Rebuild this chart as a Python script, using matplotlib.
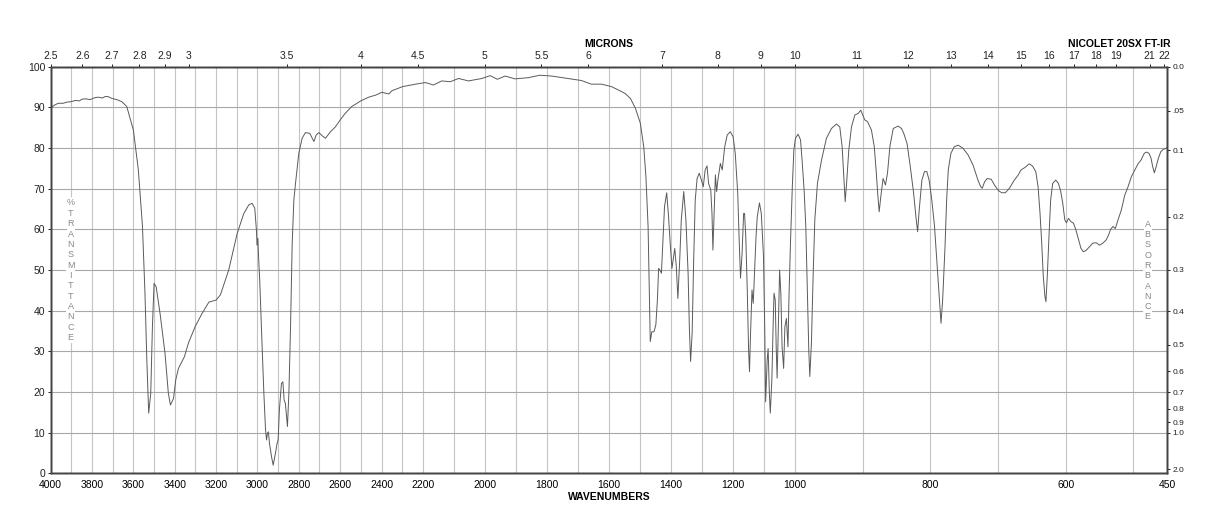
import matplotlib
matplotlib.use('Agg')
import matplotlib.pyplot as plt
import numpy as np

plt.rcParams['font.family'] = ['Liberation Sans', 'DejaVu Sans']

# chart paper x axis: three panels of equal width, 4000-2200, 2200-1000, 1000-450
X_BREAKS = [450, 1000, 2200, 4000]


def fwd(w):
    return np.interp(w, X_BREAKS, [0, 1, 2, 3])


def inv(u):
    return np.interp(u, [0, 1, 2, 3], X_BREAKS)


# O-H / C-H stretch region (cm-1, %T)
wn_high = [4000, 3980, 3963, 3940, 3920, 3900, 3880, 3860, 3850, 3830, 3810, 3785,
           3770, 3750, 3735, 3720, 3705, 3680, 3656, 3632, 3600, 3576, 3556, 3544,
           3535, 3526, 3516, 3508, 3500, 3490, 3471, 3447, 3431, 3421, 3406, 3395,
           3382, 3353, 3334, 3302, 3268, 3235, 3200, 3179, 3139, 3098, 3066, 3042,
           3026, 3013, 3005, 3002, 2998, 2994, 2989, 2981, 2969, 2961, 2956, 2952,
           2947, 2942, 2932, 2924, 2913, 2905, 2900, 2894, 2884, 2877, 2871, 2865,
           2855, 2848, 2840, 2832, 2824, 2816, 2800, 2784, 2768, 2747, 2727, 2716,
           2703, 2687, 2671, 2647, 2623, 2600, 2576, 2544, 2500, 2462, 2429, 2398,
           2365, 2349, 2298, 2236]
t_high = [89.9, 90.6, 91.0, 91.0, 91.3, 91.4, 91.7, 91.6, 92.0, 92.1, 91.9, 92.4,
          92.5, 92.3, 92.7, 92.6, 92.2, 91.9, 91.4, 90.2, 84.4, 74.6, 60.7, 44.3,
          27.9, 14.8, 19.7, 36.0, 46.7, 45.9, 39.3, 29.5, 19.7, 16.8, 18.4, 23.0,
          25.8, 28.7, 32.0, 36.0, 39.3, 42.1, 42.6, 43.9, 50.0, 59.0, 63.9, 66.0,
          66.4, 65.2, 59.8, 56.1, 57.8, 52.5, 47.5, 36.0, 19.7, 10.7, 8.2, 9.8,
          10.2, 7.4, 4.1, 2.0, 4.9, 7.4, 8.2, 15.6, 22.1, 22.5, 18.0, 17.2,
          11.5, 19.7, 36.0, 56.6, 67.2, 71.3, 78.7, 82.4, 83.8, 83.6, 81.6, 83.2,
          83.8, 83.0, 82.4, 84.0, 85.2, 86.9, 88.5, 90.2, 91.6, 92.5, 93.0, 93.7,
          93.3, 94.1, 95.1, 95.7]

# baseline 2200-1500
wn_mid = [2192, 2166, 2139, 2112, 2085, 2053, 2010, 1983, 1960, 1935, 1903, 1860,
          1823, 1785, 1732, 1689, 1657, 1624, 1592, 1560, 1548, 1531, 1515, 1499]
t_mid = [96.1, 95.5, 96.5, 96.3, 97.1, 96.5, 97.1, 97.8, 96.9, 97.7, 97.0, 97.3,
         97.9, 97.7, 97.1, 96.6, 95.7, 95.7, 95.1, 93.9, 93.4, 92.2, 89.8, 86.1]

# fingerprint 1500-1000
wn_finger = [1488, 1481, 1474, 1470, 1467, 1462, 1455, 1449, 1444, 1440, 1436, 1431,
             1427, 1421, 1414, 1408, 1402, 1397, 1388, 1383, 1378, 1372, 1367, 1359,
             1352, 1345, 1341, 1337, 1332, 1327, 1322, 1316, 1309, 1302, 1296, 1290,
             1284, 1279, 1272, 1268, 1265, 1260, 1257, 1253, 1249, 1241, 1235, 1227,
             1219, 1209, 1200, 1193, 1185, 1180, 1176, 1171, 1166, 1163, 1159, 1154,
             1150, 1147, 1144, 1139, 1135, 1131, 1126, 1122, 1115, 1109, 1102, 1098,
             1095, 1090, 1087, 1083, 1080, 1075, 1071, 1068, 1064, 1061, 1058, 1054,
             1050, 1046, 1042, 1037, 1033, 1028, 1023, 1020, 1015, 1009, 1004]
t_finger = [80.3, 73.0, 60.7, 44.3, 32.4, 34.8, 34.8, 36.5, 42.6, 50.4, 50.0, 49.2,
            55.7, 65.6, 69.0, 63.1, 55.7, 50.4, 55.3, 50.8, 43.0, 52.5, 62.3, 69.3,
            62.3, 49.2, 36.0, 27.5, 34.4, 52.5, 67.2, 72.5, 73.8, 72.1, 70.5, 74.6,
            75.6, 71.3, 69.7, 63.9, 54.9, 66.4, 73.4, 69.3, 72.1, 76.2, 74.6, 80.3,
            83.2, 84.0, 82.8, 78.7, 68.9, 56.6, 48.0, 54.1, 63.9, 63.9, 58.2, 44.3,
            30.3, 25.0, 33.6, 45.1, 41.8, 49.2, 58.2, 63.1, 66.5, 63.9, 53.5, 36.0,
            17.6, 27.9, 30.7, 19.7, 14.8, 23.0, 36.0, 44.3, 42.6, 31.1, 23.4, 36.0,
            50.0, 44.3, 31.1, 25.8, 36.0, 38.1, 31.1, 42.6, 56.6, 70.5, 79.5]

# 1000-450
wn_low = [999.5, 995.6, 992, 989.7, 986.7, 984.2, 981.8, 979.8, 978.3, 975.9, 973.4,
          970.9, 967, 961, 953.7, 946.3, 938.9, 934, 930.5, 928, 926, 923.6, 920.7,
          916.7, 911.8, 906.9, 903, 901, 897, 893, 887.2, 883, 880, 878, 875.8, 873.4,
          870, 866.5, 863.5, 860, 855, 847.8, 842.8, 839.5, 834.6, 829.8, 824.9,
          821.5, 819, 816.6, 812.7, 808.8, 805.4, 802, 798, 794, 790.7, 787.3, 784.4,
          782, 778.5, 776.1, 773.7, 769.8, 764.9, 759, 751.7, 744.4, 737.1, 729.8,
          725.9, 723.4, 720, 716.1, 710.2, 705.4, 699.5, 694.6, 689.3, 683.4, 676.1,
          670.2, 666.3, 660.5, 654.1, 649.3, 644.4, 641, 638.1, 635.6, 633.3, 630.8,
          629.4, 627.4, 624.9, 622.4, 619.4, 614.9, 610.9, 607.5, 604.5, 601.5, 599,
          596, 592.5, 588.6, 585, 581.1, 577.6, 574.1, 570.1, 565.2, 560.2, 555.2,
          550.2, 545.3, 540.3, 536.8, 533.8, 530.3, 526.9, 522.9, 517.9, 512.9, 508,
          503, 498, 493, 489, 484.1, 480.6, 477.1, 474.1, 471.6, 469.2, 466.2, 463.2,
          459.7, 455.7, 452.2, 450]
t_low = [82.4, 83.4, 82.0, 77.0, 69.7, 60.7, 44.3, 30.3, 23.8, 32.0, 48.4,
         62.3, 71.3, 77.0, 82.4, 84.8, 85.9, 85.2, 80.3, 73.0, 66.8, 72.1, 79.5,
         85.2, 88.1, 88.5, 89.3, 88.5, 86.9, 86.5, 84.4, 80.3, 73.8, 68.9, 64.3, 68.0,
         72.5, 70.9, 73.8, 80.3, 84.8, 85.4, 84.8, 83.6, 81.1, 75.4, 68.9,
         63.1, 59.4, 64.8, 72.1, 74.2, 74.2, 72.1, 67.2, 60.7, 52.5, 44.3, 36.9,
         42.6, 55.7, 67.2, 74.6, 78.7, 80.3, 80.7, 79.9, 78.3, 75.8, 72.1,
         70.5, 70.1, 71.7, 72.5, 72.3, 70.9, 69.5, 69.0, 69.0, 70.1, 72.1,
         73.4, 74.6, 75.2, 76.1, 75.6, 74.2, 70.5, 63.9, 56.6, 48.4, 43.4,
         42.2, 48.4, 58.2, 67.2, 71.3, 72.1, 71.3, 69.3, 66.4, 62.3, 61.6,
         62.7, 61.9, 61.5, 59.8, 57.4, 55.3, 54.5, 54.8, 55.7, 56.6, 56.7,
         56.1, 56.6, 57.4, 58.6, 60.0, 60.7, 60.2, 62.3, 64.8, 68.4, 70.5,
         73.0, 74.6, 76.2, 77.0, 78.7, 79.0, 78.7, 77.5, 75.4, 73.9, 75.6, 77.5,
         79.1, 79.7, 79.9, 80.2]

wn_ticks = [4000, 3800, 3600, 3400, 3200, 3000, 2800, 2600, 2400, 2200, 2000, 1800,
            1600, 1400, 1200, 1000, 800, 600, 450]
micron_ticks = [2.5, 2.6, 2.7, 2.8, 2.9, 3, 3.5, 4, 4.5, 5, 5.5, 6, 7, 8, 9, 10, 11,
                12, 13, 14, 15, 16, 17, 18, 19, 21, 22]
abs_ticks = [0.0, 0.05, 0.1, 0.2, 0.3, 0.4, 0.5, 0.6, 0.7, 0.8, 0.9, 1.0, 2.0]
abs_labels = ['0.0', '.05', '0.1', '0.2', '0.3', '0.4', '0.5', '0.6', '0.7', '0.8',
              '0.9', '1.0', '2.0']

wn = np.concatenate([wn_high, wn_mid, wn_finger, wn_low])
trans = np.concatenate([t_high, t_mid, t_finger, t_low])

fig = plt.figure(figsize=(12.18, 5.28), dpi=100)
ax = fig.add_axes([0.0416, 0.1036, 0.9168, 0.7701])
ax.set_xscale('function', functions=(fwd, inv))
ax.set_xlim(4000, 450)
ax.set_ylim(0, 100)

ax.plot(wn, trans, color='#5a5a5a', linewidth=0.7, zorder=3)

# grid of the chart paper
ax.set_xticks(wn_ticks)
ax.set_xticklabels([str(t) for t in wn_ticks])
ax.set_xticks(np.arange(500, 4000, 100), minor=True)
ax.set_yticks(np.arange(0, 101, 10))
ax.grid(True, which='both', axis='x', color='#c4c4c4', linewidth=0.8)
ax.grid(True, which='major', axis='y', color='#a8a8a8', linewidth=0.8)
ax.set_axisbelow(True)
ax.tick_params(axis='x', which='both', length=0, pad=5, labelsize=7.5)
ax.tick_params(axis='y', length=2.5, width=0.7, pad=1.5, labelsize=7.5, colors='#222222')

for sp in ax.spines.values():
    sp.set_color('#444444')
    sp.set_linewidth(1.0)

# microns on top
ax_top = ax.twiny()
ax_top.set_xscale('function', functions=(fwd, inv))
ax_top.set_xlim(4000, 450)
ax_top.set_xticks([10000.0 / m for m in micron_ticks])
ax_top.set_xticklabels([f'{m:g}' for m in micron_ticks])
ax_top.tick_params(axis='x', length=2.5, width=0.7, pad=1.5, labelsize=7.5, colors='#222222')
ax_top.xaxis.set_minor_locator(matplotlib.ticker.NullLocator())

# absorbance on the right
ax_right = ax.twinx()
ax_right.set_ylim(0, 100)
ax_right.set_yticks([100 * 10 ** (-a) for a in abs_ticks])
ax_right.set_yticklabels(abs_labels)
ax_right.tick_params(axis='y', length=2, width=0.7, pad=1.5, labelsize=6, colors='#222222')
for a2 in (ax_top, ax_right):
    for sp in a2.spines.values():
        sp.set_color('#444444')
        sp.set_linewidth(1.0)

# stacked axis captions inside the frame
for i, ch in enumerate('%TRANSMITTANCE'):
    ax.text(0.0179, 0.665 - i * 0.0255, ch, transform=ax.transAxes, ha='center',
            va='center', fontsize=6.5, color='#888888', zorder=4,
            bbox=dict(facecolor='white', edgecolor='none', pad=0.8))
for i, ch in enumerate('ABSORBANCE'):
    ax.text(0.9824, 0.613 - i * 0.0254, ch, transform=ax.transAxes, ha='center',
            va='center', fontsize=6.5, color='#888888', zorder=4,
            bbox=dict(facecolor='white', edgecolor='none', pad=0.8))

fig.text(0.5, 0.9167, 'MICRONS', ha='center', va='center', fontsize=7.5, fontweight='bold')
fig.text(0.9606, 0.9167, 'NICOLET 20SX FT-IR', ha='right', va='center', fontsize=7.5,
         fontweight='bold')
fig.text(0.5, 0.0595, 'WAVENUMBERS', ha='center', va='center', fontsize=7.5,
         fontweight='bold')

fig.savefig('out.png', dpi=100)
